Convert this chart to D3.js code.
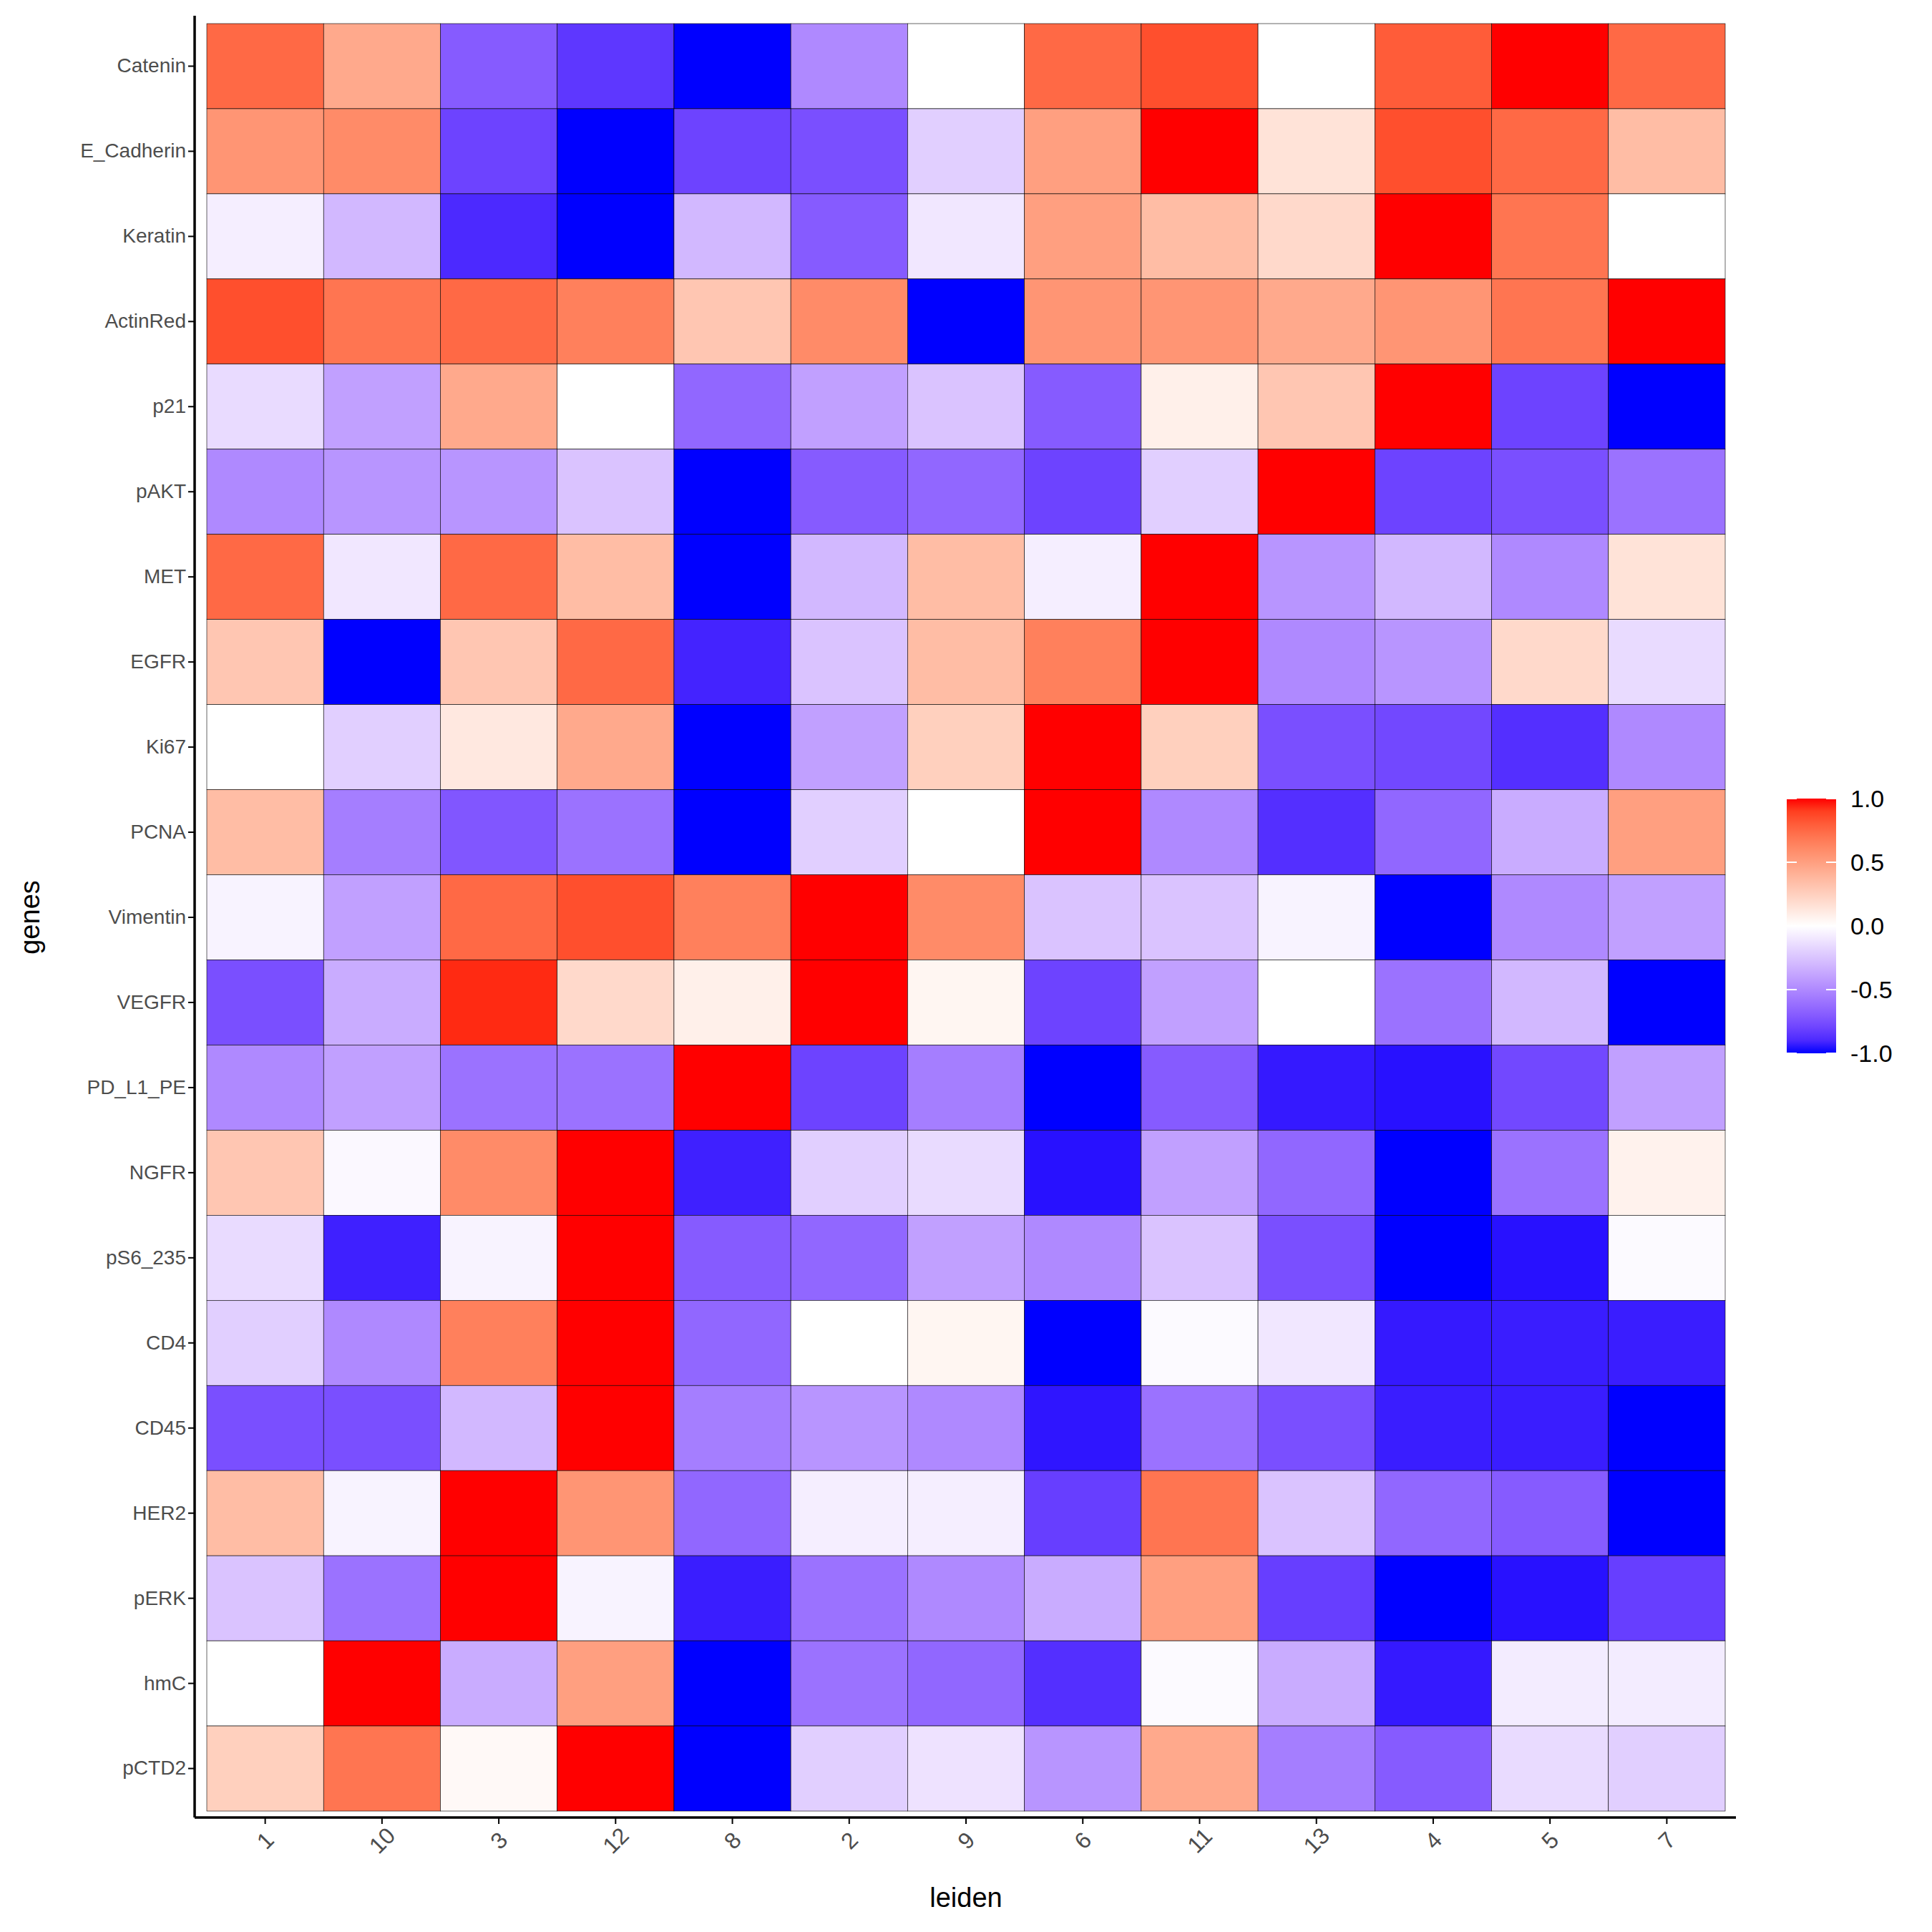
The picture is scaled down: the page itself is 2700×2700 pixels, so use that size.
<!DOCTYPE html><html><head><meta charset="utf-8">
<script src="https://cdn.jsdelivr.net/npm/d3@7"></script>
<style>body{margin:0;background:#fff}text{font-family:"Liberation Sans",Arial,sans-serif}</style></head><body>
<script>
const clusters=["1","10","3","12","8","2","9","6","11","13","4","5","7"];
const genes=["Catenin","E_Cadherin","Keratin","ActinRed","p21","pAKT","MET","EGFR","Ki67","PCNA","Vimentin","VEGFR","PD_L1_PE","NGFR","pS6_235","CD4","CD45","HER2","pERK","hmC","pCTD2"];
const values=[
[0.75,0.45,-0.7,-0.85,-1,-0.5,0,0.75,0.85,0,0.8,1.0,0.75],
[0.55,0.6,-0.8,-1,-0.8,-0.75,-0.2,0.5,1.0,0.15,0.85,0.75,0.35],
[-0.07,-0.3,-0.9,-1,-0.3,-0.7,-0.1,0.5,0.35,0.2,1.0,0.7,0],
[0.85,0.7,0.75,0.65,0.3,0.6,-1,0.55,0.55,0.45,0.55,0.7,1.0],
[-0.15,-0.4,0.45,0,-0.65,-0.4,-0.25,-0.7,0.08,0.3,1.0,-0.8,-1],
[-0.5,-0.45,-0.45,-0.25,-1,-0.7,-0.65,-0.8,-0.2,1.0,-0.8,-0.75,-0.6],
[0.75,-0.1,0.75,0.35,-1,-0.3,0.35,-0.07,1.0,-0.45,-0.3,-0.5,0.15],
[0.3,-1,0.3,0.75,-0.92,-0.25,0.35,0.65,1.0,-0.5,-0.45,0.2,-0.15],
[0,-0.2,0.12,0.45,-1,-0.4,0.25,1.0,0.25,-0.75,-0.78,-0.88,-0.5],
[0.35,-0.55,-0.72,-0.6,-1,-0.2,0,1.0,-0.5,-0.88,-0.65,-0.35,0.5],
[-0.05,-0.4,0.75,0.85,0.65,1.0,0.6,-0.25,-0.25,-0.05,-1,-0.5,-0.4],
[-0.75,-0.35,0.95,0.2,0.08,1.0,0.05,-0.8,-0.4,0,-0.6,-0.3,-1],
[-0.5,-0.4,-0.6,-0.6,1.0,-0.8,-0.55,-1,-0.7,-0.95,-0.97,-0.78,-0.4],
[0.3,-0.03,0.6,1.0,-0.93,-0.2,-0.15,-0.97,-0.4,-0.65,-1,-0.6,0.07],
[-0.15,-0.93,-0.05,1.0,-0.7,-0.65,-0.4,-0.5,-0.25,-0.75,-1,-0.97,-0.02],
[-0.2,-0.5,0.65,1.0,-0.65,0,0.05,-1,-0.02,-0.1,-0.95,-0.94,-0.94],
[-0.75,-0.75,-0.3,1.0,-0.55,-0.45,-0.5,-0.96,-0.6,-0.75,-0.94,-0.94,-1],
[0.35,-0.05,1.0,0.55,-0.65,-0.07,-0.07,-0.82,0.7,-0.25,-0.65,-0.7,-1],
[-0.25,-0.6,1.0,-0.05,-0.94,-0.6,-0.5,-0.35,0.5,-0.82,-1,-0.97,-0.82],
[0,1.0,-0.35,0.5,-1,-0.6,-0.65,-0.88,-0.02,-0.35,-0.95,-0.08,-0.08],
[0.25,0.7,0.03,1.0,-1,-0.2,-0.12,-0.45,0.45,-0.55,-0.7,-0.15,-0.2]];
const legendTicks=[1.0,0.5,0.0,-0.5,-1.0];

const W=2700,H=2700;
const svg=d3.select("body").append("svg").attr("width",W).attr("height",H);
const x=d3.scaleBand().domain(clusters).range([289,2411]);
const y=d3.scaleBand().domain(genes).range([33,2531]);
const col=d3.scaleLinear().domain([-1,0,1]).range(["#0000ff","#ffffff","#ff0000"]).interpolate(d3.interpolateLab).clamp(true);
const cells=[];
genes.forEach((g,i)=>clusters.forEach((c,j)=>cells.push({g,c,v:values[i][j]})));
svg.append("g").selectAll("rect").data(cells).join("rect")
 .attr("x",d=>x(d.c)).attr("y",d=>y(d.g)).attr("width",x.bandwidth()).attr("height",y.bandwidth())
 .attr("fill",d=>col(d.v)).attr("stroke","#000").attr("stroke-width",0.6);
const xa=svg.append("g").attr("transform","translate(0,2540)").call(d3.axisBottom(x).tickSize(9).tickSizeOuter(0));
xa.select(".domain").attr("d","M272,0H2426").attr("stroke-width",3.5);
xa.selectAll(".tick line").attr("stroke-width",2);
xa.selectAll("text").attr("font-size",32).attr("fill","#4d4d4d").attr("transform","translate(0,32) rotate(-45)")
 .attr("text-anchor","middle").attr("y",0).attr("dy","0.35em");
const ya=svg.append("g").attr("transform","translate(272,0)").call(d3.axisLeft(y).tickSize(9).tickSizeOuter(0));
ya.select(".domain").attr("d","M0,22V2540").attr("stroke-width",3.5);
ya.selectAll(".tick line").attr("stroke-width",2);
ya.selectAll("text").attr("font-size",28).attr("fill","#4d4d4d");
svg.append("text").attr("x",1350).attr("y",2665).attr("text-anchor","middle").attr("font-size",38).text("leiden");
svg.append("text").attr("transform","translate(55,1282) rotate(-90)").attr("text-anchor","middle").attr("font-size",38).text("genes");
const defs=svg.append("defs");
const gr=defs.append("linearGradient").attr("id","lg").attr("x1",0).attr("y1",1).attr("x2",0).attr("y2",0);
d3.range(0,21).forEach(i=>{const t=i/20;gr.append("stop").attr("offset",t).attr("stop-color",col(-1+2*t));});
const ly=d3.scaleLinear().domain([-1,1]).range([1472,1116]);
svg.append("rect").attr("x",2497).attr("y",1116).attr("width",69).attr("height",356).attr("fill","url(#lg)");
const lt=svg.append("g");
legendTicks.forEach(t=>{
 lt.append("line").attr("x1",2497).attr("x2",2511).attr("y1",ly(t)).attr("y2",ly(t)).attr("stroke","#fff").attr("stroke-width",2);
 lt.append("line").attr("x1",2552).attr("x2",2566).attr("y1",ly(t)).attr("y2",ly(t)).attr("stroke","#fff").attr("stroke-width",2);
 lt.append("text").attr("x",2586).attr("y",ly(t)).attr("dy","0.35em").attr("font-size",34).attr("fill","#000").text(t.toFixed(1));
});
</script></body></html>
